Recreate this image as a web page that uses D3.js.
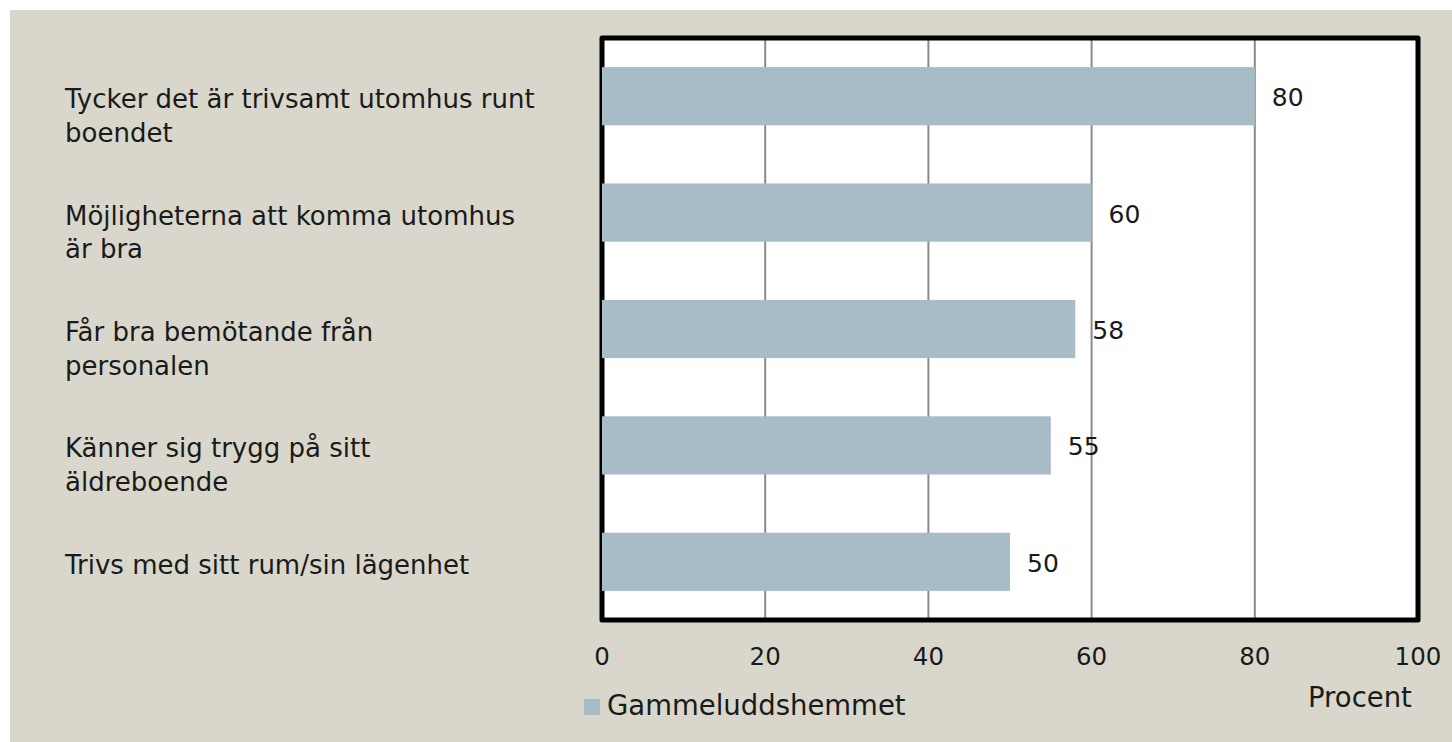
<!DOCTYPE html>
<html>
<head>
<meta charset="utf-8">
<script src="https://cdn.jsdelivr.net/npm/d3@7/dist/d3.min.js"></script>
<style>
  body { margin: 0; background: #fff; }
  text { font-family: "Century Gothic", "DejaVu Sans", sans-serif; fill: #1a1a1a; }
</style>
</head>
<body>
<div id="chart"></div>
<script>
// kategorier (rader, uppifrån och ned) och värden i procent
const kategorier = [
  ['Tycker det är trivsamt utomhus runt', 'boendet'],
  ['Möjligheterna att komma utomhus', 'är bra'],
  ['Får bra bemötande från', 'personalen'],
  ['Känner sig trygg på sitt', 'äldreboende'],
  ['Trivs med sitt rum/sin lägenhet']
];
const varden = [80, 60, 58, 55, 50];
const ticks = [0, 20, 40, 60, 80, 100];
const serieNamn = 'Gammeluddshemmet';
const axelTitel = 'Procent';

const W = 1452, H = 742;
const plot = { left: 602, right: 1418, top: 38, bottom: 620 };
const barColor = '#a7bcc7';

const svg = d3.select('#chart').append('svg')
  .attr('width', W).attr('height', H);

// bakgrund
svg.append('rect')
  .attr('x', 10).attr('y', 10)
  .attr('width', W - 10).attr('height', H - 10)
  .attr('fill', '#d9d7cb');

const x = d3.scaleLinear().domain([0, 100]).range([plot.left, plot.right]);
const y = d3.scaleBand()
  .domain(d3.range(kategorier.length))
  .range([plot.top, plot.bottom])
  .paddingInner(0.5)
  .paddingOuter(0.25);

// vit plotyta
svg.append('rect')
  .attr('x', plot.left).attr('y', plot.top)
  .attr('width', plot.right - plot.left).attr('height', plot.bottom - plot.top)
  .attr('fill', '#fff');

// stödlinjer
svg.append('g').selectAll('line')
  .data(ticks.filter(t => t > 0 && t < 100))
  .join('line')
  .attr('x1', d => x(d)).attr('x2', d => x(d))
  .attr('y1', plot.top).attr('y2', plot.bottom)
  .attr('stroke', '#8a8a8a')
  .attr('stroke-width', 2);

// ram
svg.append('rect')
  .attr('x', plot.left).attr('y', plot.top)
  .attr('width', plot.right - plot.left).attr('height', plot.bottom - plot.top)
  .attr('fill', 'none')
  .attr('stroke', '#000')
  .attr('stroke-width', 5)
  .attr('stroke-linejoin', 'round');

// staplar
svg.append('g').selectAll('rect')
  .data(varden)
  .join('rect')
  .attr('x', x(0))
  .attr('y', (d, i) => y(i))
  .attr('width', d => x(d) - x(0))
  .attr('height', y.bandwidth())
  .attr('fill', barColor);

// värdeetiketter
svg.append('g').selectAll('text')
  .data(varden)
  .join('text')
  .attr('x', d => x(d) + 17)
  .attr('y', (d, i) => y(i) + y.bandwidth() / 2 + 10)
  .style('font-size', '25px')
  .text(d => d);

// kategorietiketter
const etiketter = svg.append('g').selectAll('text')
  .data(kategorier)
  .join('text')
  .attr('x', 65)
  .attr('y', (d, i) => y(i) + y.bandwidth() / 2 + 12)
  .style('font-size', '26px');

etiketter.selectAll('tspan')
  .data(d => d)
  .join('tspan')
  .attr('x', 65)
  .attr('dy', (d, i) => i === 0 ? 0 : 33.5)
  .text(d => d);

// x-axelns etiketter
svg.append('g').selectAll('text')
  .data(ticks)
  .join('text')
  .attr('x', d => x(d))
  .attr('y', 665)
  .attr('text-anchor', 'middle')
  .style('font-size', '24.5px')
  .text(d => d);

svg.append('text')
  .attr('x', 1308).attr('y', 707)
  .style('font-size', '27.5px')
  .text(axelTitel);

// förklaring
svg.append('rect')
  .attr('x', 584).attr('y', 699)
  .attr('width', 16).attr('height', 16)
  .attr('fill', barColor);

svg.append('text')
  .attr('x', 607).attr('y', 715)
  .style('font-size', '27.5px')
  .text(serieNamn);
</script>
</body>
</html>
